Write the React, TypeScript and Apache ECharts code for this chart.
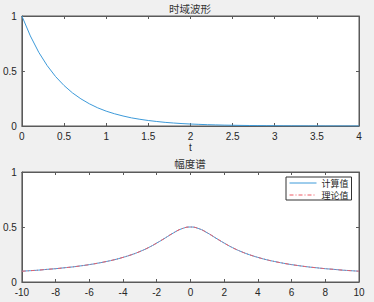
import React, { useEffect, useRef } from "react";
import * as echarts from "echarts";

// Time-domain waveform
const tValues = [0, 0.1, 0.2, 0.3, 0.4, 0.5, 0.6, 0.7, 0.8, 0.9, 1.0, 1.1, 1.2, 1.3, 1.4, 1.5, 1.6, 1.7, 1.8, 1.9, 2.0, 2.1, 2.2, 2.3, 2.4, 2.5, 2.6, 2.7, 2.8, 2.9, 3.0, 3.1, 3.2, 3.3, 3.4, 3.5, 3.6, 3.7, 3.8, 3.9, 4.0];
const waveValues = [1, 0.819, 0.67, 0.549, 0.449, 0.368, 0.301, 0.247, 0.202, 0.165, 0.135, 0.111, 0.091, 0.074, 0.061, 0.05, 0.041, 0.033, 0.027, 0.022, 0.018, 0.015, 0.012, 0.01, 0.008, 0.0067, 0.0055, 0.0045, 0.0037, 0.003, 0.0025, 0.002, 0.0017, 0.0014, 0.0011, 0.0009, 0.0007, 0.0006, 0.0005, 0.0004, 0.0003];

// Amplitude spectrum
const wValues = [-10, -9.5, -9, -8.5, -8, -7.5, -7, -6.5, -6, -5.5, -5, -4.5, -4, -3.5, -3, -2.5, -2, -1.5, -1, -0.5, 0, 0.5, 1, 1.5, 2, 2.5, 3, 3.5, 4, 4.5, 5, 5.5, 6, 6.5, 7, 7.5, 8, 8.5, 9, 9.5, 10];
const computedValues = [0.098, 0.103, 0.108, 0.115, 0.121, 0.129, 0.137, 0.147, 0.158, 0.171, 0.186, 0.203, 0.224, 0.248, 0.277, 0.312, 0.354, 0.4, 0.447, 0.485, 0.5, 0.485, 0.447, 0.4, 0.354, 0.312, 0.277, 0.248, 0.224, 0.203, 0.186, 0.171, 0.158, 0.147, 0.137, 0.129, 0.121, 0.115, 0.108, 0.103, 0.098];
const theoryValues = [0.098, 0.103, 0.108, 0.115, 0.121, 0.129, 0.137, 0.147, 0.158, 0.171, 0.186, 0.203, 0.224, 0.248, 0.277, 0.312, 0.354, 0.4, 0.447, 0.485, 0.5, 0.485, 0.447, 0.4, 0.354, 0.312, 0.277, 0.248, 0.224, 0.203, 0.186, 0.171, 0.158, 0.147, 0.137, 0.129, 0.121, 0.115, 0.108, 0.103, 0.098];

const titles = ["时域波形", "幅度谱"];
const xName = "t";
const legendNames = ["计算值", "理论值"];

const LATIN = "'Liberation Sans', Arial, sans-serif";
const CJK = "'Noto Sans CJK SC', sans-serif";
const AXIS = "#5a5a5a";
const TEXT = "#262626";

function axisPair(gridIndex: number, min: number, max: number, interval: number, name?: string) {
  const base = {
    gridIndex,
    type: "value" as const,
    min,
    max,
    interval,
    splitLine: { show: false },
    axisLine: { show: true, onZero: false, lineStyle: { color: AXIS, width: 1 } },
    axisTick: { show: true, inside: true, length: 3, lineStyle: { color: AXIS } },
  };
  return [
    {
      ...base,
      position: "bottom",
      name,
      nameLocation: "middle",
      nameGap: 16,
      nameTextStyle: { color: TEXT, fontSize: 10, fontFamily: LATIN },
      axisLabel: { show: true, color: TEXT, fontSize: 10, fontFamily: LATIN, margin: 5 },
    },
    { ...base, position: "top", axisLabel: { show: false } },
  ];
}

function yPair(gridIndex: number) {
  const base = {
    gridIndex,
    type: "value" as const,
    min: 0,
    max: 1,
    interval: 0.5,
    splitLine: { show: false },
    axisLine: { show: true, onZero: false, lineStyle: { color: AXIS, width: 1 } },
    axisTick: { show: true, inside: true, length: 3, lineStyle: { color: AXIS } },
  };
  return [
    { ...base, position: "left", axisLabel: { show: true, color: TEXT, fontSize: 10, fontFamily: LATIN, margin: 5 } },
    { ...base, position: "right", axisLabel: { show: false } },
  ];
}

export default function App() {
  const ref = useRef<HTMLDivElement>(null);
  useEffect(() => {
    if (!ref.current) return;
    const chart = echarts.init(ref.current, undefined, { renderer: "svg" });
    const waveData = tValues.map((t, i) => [t, waveValues[i]]);
    const compData = wValues.map((w, i) => [w, computedValues[i]]);
    const theoData = wValues.map((w, i) => [w, theoryValues[i]]);
    chart.setOption({
      animation: false,
      backgroundColor: "#f0f0f0",
      title: [
        { text: titles[0], left: 190, top: 3, padding: 0, textAlign: "center", textStyle: { fontSize: 10.5, fontWeight: "normal", color: "#333", fontFamily: CJK } },
        { text: titles[1], left: 190, top: 158, padding: 0, textAlign: "center", textStyle: { fontSize: 10.5, fontWeight: "normal", color: "#333", fontFamily: CJK } },
      ],
      grid: [
        { left: 21, top: 16, width: 338, height: 110, show: true, backgroundColor: "#ffffff", borderWidth: 1, borderColor: AXIS },
        { left: 21, top: 172, width: 338, height: 110, show: true, backgroundColor: "#ffffff", borderWidth: 1, borderColor: AXIS },
      ],
      xAxis: [...axisPair(0, 0, 4, 0.5, xName), ...axisPair(1, -10, 10, 2)],
      yAxis: [...yPair(0), ...yPair(1)],
      legend: {
        data: legendNames,
        orient: "vertical",
        left: 286,
        top: 177,
        itemWidth: 27,
        itemHeight: 8,
        itemGap: 2,
        padding: [1, 3, 0, 3],
        backgroundColor: "#ffffff",
        borderColor: "#333333",
        borderWidth: 1,
        borderRadius: 0,
        itemStyle: { opacity: 0 },
        lineStyle: { width: 1 },
        textStyle: { fontSize: 9, lineHeight: 10, color: TEXT, fontFamily: CJK },
      },
      series: [
        {
          type: "line",
          xAxisIndex: 0,
          yAxisIndex: 0,
          data: waveData,
          symbol: "none",
          smooth: false,
          lineStyle: { color: "#3d9ad9", width: 1 },
          itemStyle: { color: "#3d9ad9" },
        },
        {
          name: legendNames[0],
          type: "line",
          xAxisIndex: 2,
          yAxisIndex: 2,
          data: compData,
          symbol: "none",
          smooth: true,
          lineStyle: { color: "#3d9ad9", width: 1 },
          itemStyle: { color: "#3d9ad9" },
        },
        {
          name: legendNames[1],
          type: "line",
          xAxisIndex: 2,
          yAxisIndex: 2,
          data: theoData,
          symbol: "none",
          smooth: true,
          lineStyle: { color: "#ef5a64", width: 1, type: [4, 2, 1, 2] },
          itemStyle: { color: "#ef5a64" },
        },
      ],
    });
    return () => chart.dispose();
  }, []);
  return <div ref={ref} style={{ position: "fixed", left: 0, top: 0, width: 374, height: 302 }} />;
}
